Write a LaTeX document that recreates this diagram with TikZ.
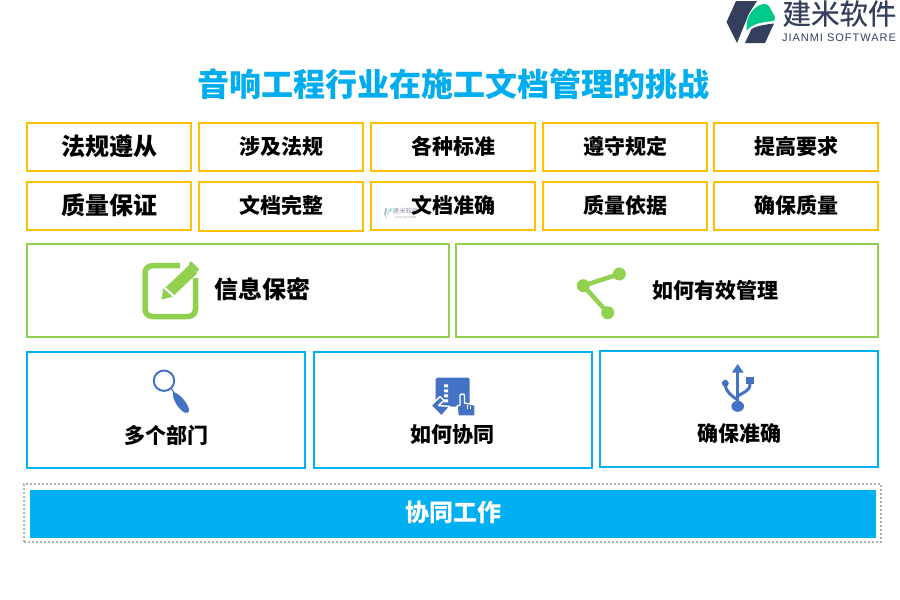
\documentclass[tikz,border=0pt]{standalone}
\usepackage{fontspec}
\setmainfont{Noto Sans CJK SC}
\newfontfamily\latinfont[LetterSpace=9]{Liberation Sans}
\newfontfamily\logofont[FakeBold=0.5]{Noto Sans CJK SC}
\definecolor{cyellow}{HTML}{FFC000}
\definecolor{cgreen}{HTML}{92D050}
\definecolor{cblue}{HTML}{00B0F0}
\definecolor{cfill}{HTML}{00B0F0}
\definecolor{ctitle}{HTML}{00ADEF}
\definecolor{cicon}{HTML}{4472C4}
\definecolor{cdark}{HTML}{333F5C}
\definecolor{cleaf}{HTML}{00C98B}
\newcommand{\fs}[1]{\fontsize{#1}{#1}\selectfont\bfseries}
\tikzset{
 x=1pt,y=-1pt,
 boxbase/.style={draw,rectangle,line width=2pt,inner sep=0pt,outer sep=0pt,text=black,anchor=north west},
 ybox/.style={boxbase,draw=cyellow,minimum width=164pt,minimum height=48pt,font=\fs{21},text height=18pt,text depth=3.4pt},
 ybig/.style={ybox,font=\fs{24},text height=20pt,text depth=4pt},
 gbox/.style={boxbase,draw=cgreen,minimum width=422pt,minimum height=93pt},
 bbox/.style={boxbase,draw=cblue,minimum width=278pt,minimum height=116pt},
 lbl/.style={inner sep=0pt,text=black},
}
\begin{document}
\begin{tikzpicture}
\useasboundingbox (0,0) rectangle (900,600);
% logo
\fill[cdark] (736,1) -- (757,1) -- (749,13.5) -- (737,43) -- (726.5,22) -- cycle;
\fill[cdark] (745,43) -- (751.5,29) .. controls (756,26) and (765,24.5) .. (774,23.5) -- (765,43) -- cycle;
\fill[cleaf] (746.5,28) .. controls (746,18) and (752,8) .. (761,4.5) .. controls (765,3.5) and (768,4) .. (769,6) -- (775,17) -- (774,21) .. controls (764,22) and (752,23) .. (746.5,31) -- cycle;
\node[inner sep=0pt,text=cdark,font=\fontsize{28.5}{29}\logofont] (logoname) at (839.5,13.5) {建米软件};
\node[inner sep=0pt,text=cdark,font=\fontsize{11}{11}\latinfont] (logosub) at (839,38) {JIANMI SOFTWARE};
% title
\node[inner sep=0pt,text=ctitle,font=\fs{32}] (title) at (453.5,84) {音响工程行业在施工文档管理的挑战};
% yellow rows
\node[ybig] (a1) at (27,123) {法规遵从};
\node[ybox] (a2) at (199,123) {涉及法规};
\node[ybox] (a3) at (371,123) {各种标准};
\node[ybox] (a4) at (543,123) {遵守规定};
\node[ybox] (a5) at (714,123) {提高要求};
\node[ybig] (b1) at (27,182) {质量保证};
\node[ybox,minimum height=49pt] (b2) at (199,182) {文档完整};
\node[ybox] (b3) at (371,182) {文档准确};
\node[ybox] (b4) at (543,182) {质量依据};
\node[ybox] (b5) at (714,182) {确保质量};
% watermark
\begin{scope}[opacity=.55]
\fill[cdark!60] (385,208) -- (387.5,208) -- (386,214) -- (386.5,219) -- (384,214) -- cycle;
\fill[cleaf!60] (387,213) .. controls (387.5,210) and (389.5,207.5) .. (391.5,208) -- (392.5,211) .. controls (390.5,211.5) and (388.5,212) .. (387,216) -- cycle;
\node[inner sep=0pt,text=cdark,font=\fontsize{6.5}{7}\selectfont] (wm) at (405.5,211.5) {建米软件};
\node[inner sep=0pt,text=cdark,font=\fontsize{2.5}{3}\selectfont] (wmsub) at (405.5,217.5) {JIANMI SOFTWARE};
\end{scope}
% green boxes
\node[gbox] (g1) at (27,244) {};
\node[gbox] (g2) at (456,244) {};
\node[lbl,font=\fs{24}] (g1t) at (262,289.5) {信息保密};
\node[lbl,font=\fs{21}] (g2t) at (715,290.5) {如何有效管理};
% pen icon
\draw[cgreen,line width=5.5pt,line join=round] (180,265.7) -- (153,265.7) .. controls (148,265.7) and (145,268.5) .. (145,273) -- (145,309) .. controls (145,313.5) and (148,316.5) .. (153,316.5) -- (188,316.5) .. controls (192.5,316.5) and (195.5,313.5) .. (195.5,309) -- (195.5,278);
\fill[cgreen] (165.7,287.3) -- (189.3,265) -- (197.3,273.3) -- (174.3,295) -- cycle;
\fill[cgreen] (163.3,288.3) -- (161.5,299.5) -- (172.7,296.7) -- cycle;
\fill[cgreen,rounded corners=.8pt] (188.5,264) -- (191,261) -- (199.5,269.5) -- (196.8,272.3) -- cycle;
% share icon
\draw[cgreen,line width=4.5pt] (619.3,274) -- (583.3,285.7) -- (607.7,312.7);
\fill[cgreen] (583.3,285.7) circle[radius=6.5] (619.3,274) circle[radius=6.5] (607.7,312.7) circle[radius=6.5];
% blue boxes
\node[bbox] (c1) at (27,352) {};
\node[bbox] (c2) at (314,352) {};
\node[bbox] (c3) at (600,351) {};
\node[lbl,font=\fs{21}] (c1t) at (166,435) {多个部门};
\node[lbl,font=\fs{21}] (c2t) at (452.5,435) {如何协同};
\node[lbl,font=\fs{21}] (c3t) at (739,433.5) {确保准确};
% magnifier
\draw[cicon,line width=2pt] (164,380.7) circle[radius=10.2];
\draw[cicon,line width=1.2pt] (171,388) -- (174,392.5);
\fill[cicon] (173,392) .. controls (180,393) and (189,405) .. (189,410) .. controls (189,413) and (186.5,413.5) .. (184.5,412.5) .. controls (178,409) and (172,399) .. (173,392) -- cycle;
% touch icon
\fill[cicon,rounded corners=1.5pt] (435.7,377.7) rectangle (469.5,406.7);
\fill[white] (444,384.3) rectangle (448,387.3) (444,389.3) rectangle (448,392.3) (444,394.3) rectangle (448,397.3) (444,399.3) rectangle (448,402.3);
\filldraw[fill=cicon,draw=white,line width=1.4pt,line join=round] (431,405.5) -- (440,396.5) -- (444,400.5) -- (438.5,405.5) -- (450,406.5) -- (441.5,416) -- cycle;
\filldraw[fill=cicon,draw=white,line width=1.4pt,line join=round] (460,395.5) .. controls (460,393.5) and (464.5,393.5) .. (464.5,395.5) -- (464.5,403) -- (475,405) -- (475,416) -- (458,416) -- (457,406) -- (460,405) -- cycle;
\draw[white,line width=.6pt] (467,405) -- (467,409) (470.5,405.5) -- (470.5,409);
% usb icon
\fill[cicon] (737.7,364) -- (743.5,372.5) -- (732,372.5) -- cycle;
\draw[cicon,line width=3.2pt] (737.7,370) -- (737.7,405);
\draw[cicon,line width=3pt] (725.3,384) .. controls (725.5,392) and (732,396) .. (737.7,400);
\draw[cicon,line width=3pt] (750,384) .. controls (750,391) and (744,392) .. (737.7,396);
\fill[cicon] (737.7,406.3) ellipse[x radius=6.3,y radius=5.5];
\fill[cicon] (725.3,383.3) circle[radius=3.5];
\fill[cicon] (746,376.7) rectangle (754,384.3);
% bottom bar
\node[draw=black!30,dash pattern=on 2pt off 2pt,line width=1.5pt,rectangle,inner sep=0pt,outer sep=0pt,minimum width=857pt,minimum height=58pt,anchor=north west] (frame) at (24,484) {};
\node[fill=cfill,rectangle,inner sep=0pt,outer sep=0pt,minimum width=846pt,minimum height=48pt,anchor=north west,text=white,font=\fs{24},text height=19pt,text depth=4.5pt] (bar) at (30,490) {协同工作};
\end{tikzpicture}
\end{document}
